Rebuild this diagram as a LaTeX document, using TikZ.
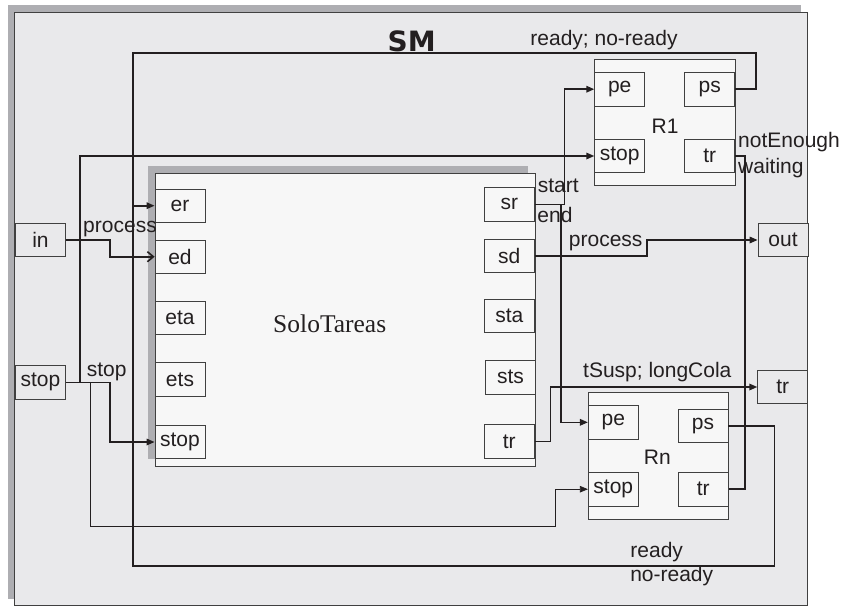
\documentclass[tikz,border=0pt]{standalone}
\usepackage{fontspec}
\setmainfont{Liberation Sans}
\newfontfamily\serifA{Liberation Serif}
\newfontfamily\smfont{DejaVu Sans}
\usetikzlibrary{arrows.meta}
\definecolor{bgc}{HTML}{E9E9EB}
\definecolor{shc}{HTML}{AEAEB2}
\definecolor{blk}{HTML}{F7F7F7}
\definecolor{ink}{HTML}{231F20}
\definecolor{edgec}{HTML}{404040}
\tikzset{
 port/.style={draw=edgec, line width=0.8pt, minimum width=50pt, minimum height=33.4pt, inner sep=0pt, font=\fontsize{21}{24}\selectfont, text=ink},
 inport/.style={port, fill=blk},
 outport/.style={port, fill=bgc},
 wire/.style={draw=ink, line width=1.6pt},
 arr/.style={wire, -{Triangle[length=8pt,width=6.5pt]}},
 openarr/.style={wire, -{Straight Barb[length=6pt,width=10pt]}},
 thinarr/.style={draw=ink, line width=0.7pt, -{Triangle[length=8pt,width=6.5pt]}},
 lbl/.style={font=\fontsize{21}{24}\selectfont, text=ink, inner sep=0pt},
 blockbox/.style={draw=edgec, line width=0.8pt, fill=blk, inner sep=0pt},
}
\begin{document}
\begin{tikzpicture}[x=1pt,y=-1pt]
\useasboundingbox (0,0) rectangle (842,606);
% outer frame
\fill[shc] (8,5) rectangle (801,599);
\draw[edgec, line width=0.8pt, fill=bgc] (14.3,12.3) rectangle (807.7,605);
\node[font=\smfont\bfseries\fontsize{28}{30}\selectfont, text=ink, inner sep=0pt] (sm) at (411.7,41.7) {SM};

% SoloTareas block
\fill[shc] (148,166) rectangle (528,459);
\node[blockbox, minimum width=380pt, minimum height=293pt] (solo) at (345,319.5) {};
\node[font=\serifA\fontsize{25.5}{28}\selectfont, text=ink, inner sep=0pt] (sololbl) at (329.7,323.3) {SoloTareas};

% R1 and Rn blocks
\node[blockbox, minimum width=140.3pt, minimum height=126.4pt] (R1) at (664.85,122.5) {};
\node[lbl] (R1lbl) at (665,126) {R1};
\node[blockbox, minimum width=140pt, minimum height=126.7pt] (Rn) at (658.3,455.65) {};
\node[lbl] (Rnlbl) at (657.3,457.3) {Rn};

% ports of SoloTareas
\node[inport] (er) at (180,205.7) {er};
\node[inport] (ed) at (180,256.7) {ed};
\node[inport] (eta) at (180,318) {eta};
\node[inport] (ets) at (180,379.5) {ets};
\node[inport] (stopS) at (180,442) {stop};
\node[inport] (sr) at (509.3,204.3) {sr};
\node[inport] (sd) at (509.3,256) {sd};
\node[inport] (sta) at (509.3,316) {sta};
\node[inport] (sts) at (510.5,377.3) {sts};
\node[inport] (trS) at (509.3,441.3) {tr};

% ports of R1 and Rn
\node[inport] (R1pe) at (619.7,89.2) {pe};
\node[inport] (R1ps) at (709.7,89.2) {ps};
\node[inport] (R1stop) at (619.7,156) {stop};
\node[inport] (R1tr) at (709.7,156) {tr};
\node[inport] (Rnpe) at (613.3,422.3) {pe};
\node[inport] (Rnps) at (703,426) {ps};
\node[inport] (Rnstop) at (613.3,489.2) {stop};
\node[inport] (Rntr) at (703.3,489.2) {tr};

% external ports
\node[outport] (in) at (40.5,240) {in};
\node[outport] (stopE) at (40.5,382.3) {stop};
\node[outport] (out) at (783,240) {out};
\node[outport] (trE) at (782.7,387) {tr};

% junction coordinates
\coordinate (loopx) at (133,0);
\coordinate (jstopA) at (80,382.3);
\coordinate (jstopB) at (90,382.3);
\coordinate (jsr) at (561,204.3);

% connectors
\draw[wire] (R1ps.east) -| (756,52.7) -| (133,565.7) -| (774.3,426) -- (Rnps.east);
\draw[arr] (er.west -| loopx) -- (er.west);
\draw[arr] (stopE.east) -| (110,442) -- (stopS.west);
\draw[arr] (jstopA) |- (R1stop.west);
\draw[thinarr] (jstopB) |- (555.7,526.7) |- (Rnstop.west);
\draw[openarr] (in.east) -| (110,256.7) -- (ed.west);
\draw[arr] (sr.east) -| (564.3,89.2) -- (R1pe.west);
\draw[arr] (jsr) |- (Rnpe.west);
\draw[arr] (sd.east) -| (646.7,240) -- (out.west);
\draw[arr] (trS.east) -| (550.5,387) -- (trE.west);
\draw[wire] (R1tr.east) -| (745,489.2) -- (Rntr.east);

% labels
\node[lbl] (l1) at (604,40) {ready; no-ready};
\node[lbl] (l2) at (656.7,551.7) {ready};
\node[lbl] (l3) at (671.7,575.7) {no-ready};
\node[lbl] (l4) at (120,229.3) {process};
\node[lbl] (l5) at (106.7,371.7) {stop};
\node[lbl] (l6) at (558.3,185.7) {start};
\node[lbl] (l7) at (555,215) {end};
\node[lbl] (l8) at (605.7,243.3) {process};
\node[lbl] (l9) at (657.3,372.3) {tSusp; longCola};
\node[lbl, anchor=west] (l10) at (738,141.7) {notEnough};
\node[lbl, anchor=west] (l11) at (738,168.3) {waiting};
\end{tikzpicture}
\end{document}
